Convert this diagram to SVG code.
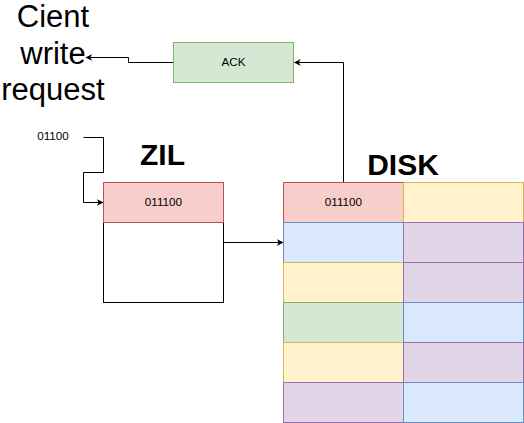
<svg xmlns="http://www.w3.org/2000/svg" width="524" height="423" viewBox="0 0 524 423">
<defs>
<style>
text{font-family:"Liberation Sans",Arial,Helvetica,sans-serif;fill:#000;text-anchor:middle}
.s{font-size:11.7px}
.big{font-size:31px}
.b{font-size:30px;font-weight:bold}
.red{fill:#f8cecc;stroke:#b85450}
.grn{fill:#d5e8d4;stroke:#82b366}
.blu{fill:#dae8fc;stroke:#6c8ebf}
.yel{fill:#fff2cc;stroke:#d6b656}
.pur{fill:#e1d5e7;stroke:#9673a6}
.wht{fill:#fff;stroke:#000}
.c{fill:none;stroke:#000;stroke-width:1}
</style>
<marker id="ah" viewBox="0 0 10 10" refX="9" refY="5" markerWidth="7" markerHeight="7" orient="auto" markerUnits="userSpaceOnUse">
<path d="M0,0 L10,5 L0,10 L3,5 Z" fill="#000"/>
</marker>
</defs>
<rect width="524" height="423" fill="#fff"/>
<g id="connectors">
<path class="c" d="M173.5,62.5 H128.5 V57.5 H86" marker-end="url(#ah)"/>
<path class="c" d="M343.5,182.5 V62.5 H294.5" marker-end="url(#ah)"/>
<path class="c" d="M83.5,137.5 H103.5 V172.5 H83.5 V202.5 H103" marker-end="url(#ah)"/>
<path class="c" d="M223.5,242.5 H283" marker-end="url(#ah)"/>
</g>
<g id="client-label">
<text class="big" x="53" y="27">Cient</text>
<text class="big" x="53" y="63.5">write</text>
<text class="big" x="53" y="100">request</text>
</g>
<g id="ack">
<rect class="grn" x="173.5" y="42.5" width="120" height="40"/>
<text class="s" x="233.5" y="66">ACK</text>
</g>
<g id="input-label">
<text class="s" x="53" y="140">01100</text>
</g>
<g id="zil-title"><text class="b" x="162.5" y="164.5">ZIL</text></g>
<g id="disk-title"><text class="b" x="403" y="174.5">DISK</text></g>
<g id="zil">
<rect class="wht" x="103.5" y="222.5" width="120" height="80"/>
<rect class="red" x="103.5" y="182.5" width="120" height="40"/>
<text class="s" x="163.5" y="206">011100</text>
</g>
<g id="disk">
<rect class="red" x="283.5" y="182.5" width="120" height="40"/>
<rect class="yel" x="403.5" y="182.5" width="120" height="40"/>
<rect class="blu" x="283.5" y="222.5" width="120" height="40"/>
<rect class="pur" x="403.5" y="222.5" width="120" height="40"/>
<rect class="yel" x="283.5" y="262.5" width="120" height="40"/>
<rect class="pur" x="403.5" y="262.5" width="120" height="40"/>
<rect class="grn" x="283.5" y="302.5" width="120" height="40"/>
<rect class="blu" x="403.5" y="302.5" width="120" height="40"/>
<rect class="yel" x="283.5" y="342.5" width="120" height="40"/>
<rect class="pur" x="403.5" y="342.5" width="120" height="40"/>
<rect class="pur" x="283.5" y="382.5" width="120" height="40"/>
<rect class="blu" x="403.5" y="382.5" width="120" height="40"/>
<text class="s" x="343.5" y="206">011100</text>
</g>
</svg>
